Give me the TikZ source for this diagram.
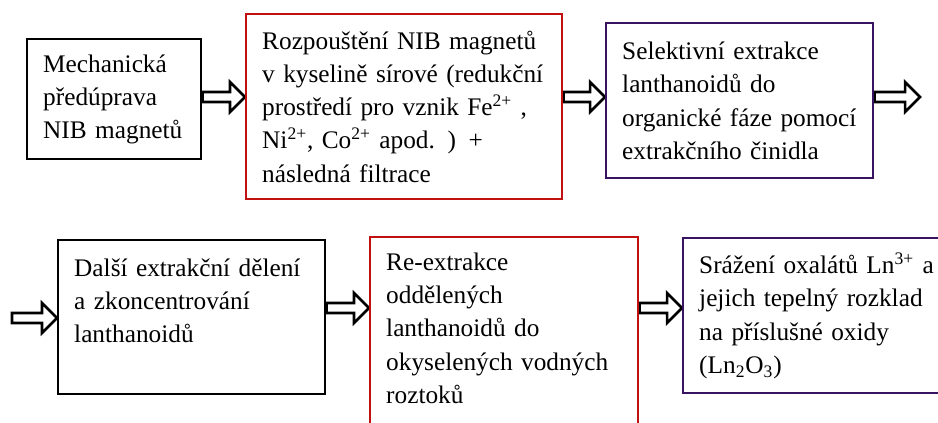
\documentclass[tikz,border=0pt]{standalone}
\usepackage{fontspec}
\setmainfont{Liberation Serif}
\usetikzlibrary{calc,backgrounds}

\definecolor{boxred}{RGB}{192,16,16}
\definecolor{boxpurple}{RGB}{56,20,96}

\tikzset{
  stepbox/.style n args={3}{draw=#3, line width=1.4pt, anchor=north west,
    minimum width=#1*0.02cm, minimum height=#2*0.02cm, text width=(#1-32)*0.02cm,
    inner xsep=0.32cm, inner ysep=0pt, align=left,
    font=\fontsize{14.4}{18.9}\selectfont},
  blockarr/.style={draw=black, line width=1.5pt, fill=white,
    to path={let \p1=(\tikztostart), \p2=(\tikztotarget) in
      (\x1,\y1+2.85pt) -- (\x2-8.5pt,\y1+2.85pt) -- (\x2-8.5pt,\y1+8.5pt) -- (\x2,\y1)
      -- (\x2-8.5pt,\y1-8.5pt) -- (\x2-8.5pt,\y1-2.85pt) -- (\x1,\y1-2.85pt) -- cycle}}
}

\begin{document}
\begin{tikzpicture}[x=0.02cm, y=-0.02cm]
\useasboundingbox (0,0) rectangle (938,423);
\clip (0,0) rectangle (938,423);

% rows of the arrows
\coordinate (r1) at (0,97);
\coordinate (r2) at (0,308);
\coordinate (c3) at (920,97);
\coordinate (c4) at (12,318);

% first row
\node[stepbox={174}{120}{black}] (b1) at (26,38)
  {Mechanická\\ předúprava\\ NIB magnetů};
\node[stepbox={316}{185}{boxred}] (b2) at (245,13)
  {Rozpouštění NIB magnetů\\ v kyselině sírové (redukční\\
   prostředí pro vznik Fe\textsuperscript{2+} ,\\
   Ni\textsuperscript{2+}, Co\textsuperscript{2+} apod. ) +\\ následná filtrace};
\node[stepbox={267}{155}{boxpurple}] (b3) at (605,22)
  {Selektivní extrakce\\ lanthanoidů do\\ organické fáze pomocí\\ extrakčního činidla};

% second row
\node[stepbox={267}{154}{black}] (b4) at (57,239)
  {Další extrakční dělení\\ a zkoncentrování\\ lanthanoidů\\ \mbox{}};
\node[stepbox={268}{215}{boxred}] (b5) at (369,236)
  {Re-extrakce\\ oddělených\\ lanthanoidů do\\ okyselených vodných\\ roztoků\\ \mbox{}};
\node[stepbox={267}{155}{boxpurple}] (b6) at (682,237)
  {Srážení oxalátů Ln\textsuperscript{3+} a\\ jejich tepelný rozklad\\
   na příslušné oxidy\\ (Ln\textsubscript{2}O\textsubscript{3})};

% hollow arrows
\begin{scope}[on background layer]
\draw[blockarr] (b1.east |- r1) to (b2.west);
\draw[blockarr] (b2.east |- r1) to (b3.west);
\draw[blockarr] (b3.east |- r1) to (c3);
\draw[blockarr] (c4) to (b4.west);
\draw[blockarr] (b4.east |- r2) to (b5.west);
\draw[blockarr] (b5.east |- r2) to (b6.west);
\end{scope}

\end{tikzpicture}
\end{document}
